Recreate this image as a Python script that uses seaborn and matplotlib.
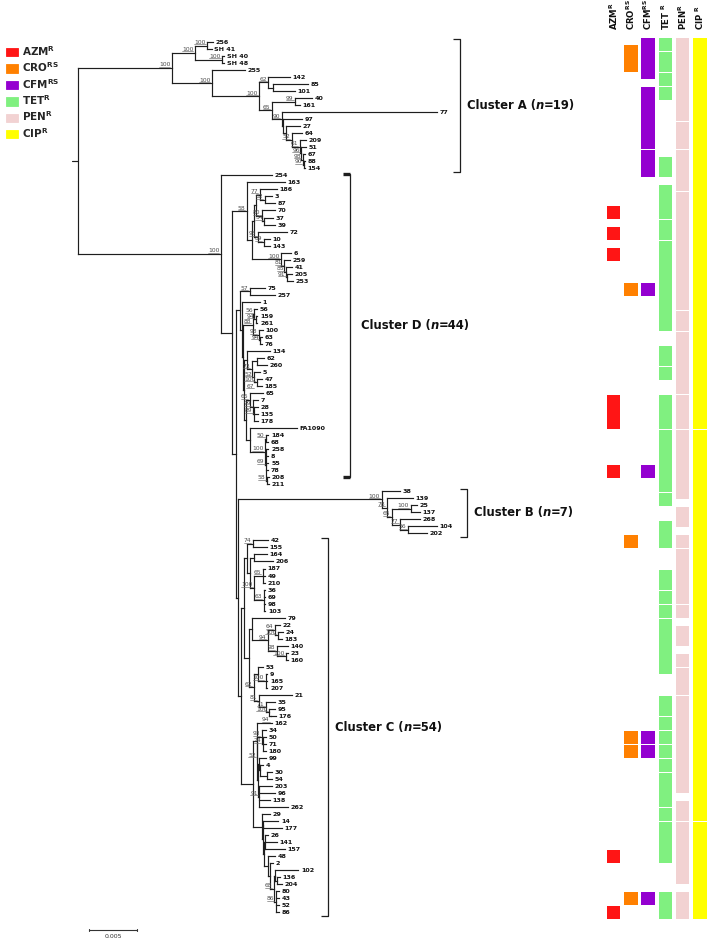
import matplotlib
matplotlib.use("Agg")
import matplotlib.pyplot as plt
import seaborn as sns
from matplotlib import font_manager as fm
from matplotlib.collections import LineCollection
from matplotlib.patches import Patch

# ---------------- data ----------------
# tree pieces in newick, branch lengths in substitutions/site, inner labels = bootstrap
CLADE_A = "(((256:0.00066,SH_41:0.0005)100:0.00127,(SH_40:0.00021,SH_48:0.00021)100:0.00285)100:0.00243,(255:0.00348,((142:0.00229,(85:0.00366,101:0.00229):0.00053)62:0.00095,((40:0.00176,161:0.00053)99:0.00246,(77:0.01635,(97:0.00194,(27:0.00148,(64:0.00105,(209:0.00063,(51:0.00047,(67:0.00026,(88:0.00016,154:0.00016)90:0.00011)98:0.00011)96:0.00016)61:0.00088)52:0.0006):0.00028):0.00017)90:0.00105)65:0.00131)100:0.00499)100:0.00422)100:0.00988"
CLADE_D_UPPER = "(163:0.00404,((((186:0.00176,(3:0.00071,87:0.00105)82:0.00053)77:0.00042,(70:0.00137,(37:0.00092,39:0.00113)54:0.00024)80:0.00063):0.00021,(72:0.00303,(10:0.00063,143:0.00063)89:0.00063)93:0.00042):0.00024,(6:0.00105,(259:0.00063,(41:0.00063,(205:0.00053,253:0.00063)91:0.00011)85:0.00021)81:0.00032)100:0.00309):0.00053)58:0.00158"
CLADE_D_LOWER = "((75:0.00158,257:0.00261)57:0.00105,(1:0.00193,(((56:0.00026,(159:0.00016,261:0.00016)94:0.00016)56:0.00016,(100:0.00042,(63:0.00016,76:0.00016)94:0.00016)98:0.00063)88:0.00105,((134:0.00246,((62:0.0008,260:0.00105):0.0005,(5:0.00063,((47:0.0005,185:0.0005)100:0.00016)67:0.00016)52:0.00021)73:0.00056):0.00023,((65:0.0014,(7:0.00053,(28:0.00042,135:0.00042,178:0.00042)89:0.00011)99:0.00032)66:0.00042,(FA1090:0.00493,((184:0.00026,68:0.00026)50:0.00011,(258:0.00026,8:0.00026,55:0.00026,78:0.00026,(208:0.00016,211:0.00016)58:0.00011)69:0.00011)100:0.00158):0.00042):0.00016):0.00016):0.00014):0.00018):0.00042"
CLADE_B = "(38:0.00193,(139:0.00277,((25:0.00066,137:0.00098)100:0.002,(268:0.00211,(104:0.00303,202:0.00197)56:0.00084)77:0.00088)65:0.00053)78:0.00053)100:0.01513"
CLADE_C_UPPER = "((42:0.00158,155:0.00145)74:0.00066,((164:0.00134,206:0.002):0.00042,((187:0.00021,49:0.00021,210:0.00021)65:0.00092,(36:0.00016,69:0.00016,98:0.00016,103:0.00016)63:0.00102)100:0.00045):0.00035):0.00028"
CLADE_C_MID = "((79:0.00351,((22:0.00053,(24:0.00053,183:0.00039)100:0.00032)64:0.00074,(140:0.00116,(23:0.00024,160:0.00024)100:0.00095)98:0.00095)94:0.00172):0.00025,((53:0.00056,(9:0.00019,165:0.00019,207:0.00019)100:0.00084):0.00039,(21:0.00345,(35:0.00095,(95:0.00063,(176:0.00053)94:0.00021)100:0.00032)71:0.00074)81:0.00053)62:0.0005):0.00056"
CLADE_C_LOW1 = "(162:0.00158,((34:0.00042,(50:0.00032,71:0.00032,180:0.00032)24:0.00011)93:0.00047,((99:0.00081,(4:0.00035,(30:0.00053,54:0.00053):0.00071):0.00011):0.00007,(203:0.00129,96:0.00164,138:0.00111,262:0.00304)91:0.00013):0.00008)52:0.00008):0.00036"
CLADE_C_LOW2 = "(29:0.00088,((14:0.00158,177:0.00194):0.00003,((26:0.00035,141:0.00123,157:0.00211):0.00011,(48:0.00071,(2:0.00035,((102:0.00246,(136:0.00035,204:0.00053):0.00018):0.00011,(80:0.00035,43:0.00035,52:0.00035,86:0.00035)86:0.00021)68:0.00042):0.00018):0.00045):0.00011):0.00014):0.00089"
BACKBONE = "({A},(254:0.00535,({DU},({DL},({B},(({CU},{CM}):0.00032,({CL1},{CL2}):0.0013):0.00028):0.00024):0.00045):0.00113)100:0.01505);"

CLUSTER_NAMES = ["A", "D", "B", "C"]
CLUSTER_N = [19, 44, 7, 54]
CLUSTER_FIRST = ["256", "254", "38", "42"]
CLUSTER_LAST = ["154", "208", "202", "86"]

SCALE_BAR = 0.005

DRUGS = ["AZM", "CRO", "CFM", "TET", "PEN", "CIP"]
DRUG_SUP = ["R", "RS", "RS", "R", "R", "R"]
DRUG_COLORS = ["#ff1515", "#ff8000", "#9400d0", "#80f080", "#f2d2d2", "#ffff00"]

# resistance blocks per column (first row, last row)
AZM_RUNS = [(24, 25), (27, 28), (30, 31), (51, 55), (61, 62), (116, 117), (124, 125)]
CRO_RUNS = [(1, 4), (35, 36), (71, 72), (99, 100), (101, 102), (122, 123)]
CFM_RUNS = [(0, 5), (7, 15), (16, 19), (35, 36), (61, 62), (99, 100), (101, 102), (122, 123)]
TET_RUNS = [(0, 1), (2, 4), (5, 6), (7, 8), (17, 19), (21, 25), (26, 28), (29, 41), (44, 46),
            (47, 48), (51, 55), (56, 64), (65, 66), (69, 72), (76, 78), (79, 80), (81, 82),
            (83, 90), (94, 96), (97, 98), (99, 100), (101, 102), (103, 104), (105, 109),
            (110, 111), (112, 117), (122, 125)]
PEN_RUNS = [(0, 11), (12, 15), (16, 21), (22, 38), (39, 41), (42, 50), (51, 55), (56, 65),
            (67, 69), (71, 72), (73, 80), (81, 82), (84, 86), (88, 89), (90, 93), (94, 107),
            (109, 111), (112, 120), (122, 125)]
CIP_RUNS = [(0, 55), (56, 111), (112, 125)]
ALL_RUNS = [AZM_RUNS, CRO_RUNS, CFM_RUNS, TET_RUNS, PEN_RUNS, CIP_RUNS]

# ---------------- layout (pixels of a 708x939 canvas) ----------------
W, H = 708, 939
ROOT_PX, PX_PER_UNIT = 78.3, 9480.0
LEAF0_PX, LEAF_STEP = 42.0, 7.02
ROW0_PX, ROW_STEP = 38.3, 7.0
COL0_PX, COL_STEP = 613.5, 17.3


def px_x(px):
    return (px - ROOT_PX) / PX_PER_UNIT


def px_y(py):
    return (py - LEAF0_PX) / LEAF_STEP


def parse_newick(s):
    pos = 0

    def node():
        nonlocal pos
        n = {"children": [], "name": "", "length": 0.0}
        if s[pos] == "(":
            pos += 1
            n["children"].append(node())
            while s[pos] == ",":
                pos += 1
                n["children"].append(node())
            assert s[pos] == ")", s[pos - 20:pos + 5]
            pos += 1
        start = pos
        while s[pos] not in ":,();":
            pos += 1
        n["name"] = s[start:pos].replace("_", " ")
        if s[pos] == ":":
            pos += 1
            start = pos
            while s[pos] not in ",();":
                pos += 1
            n["length"] = float(s[start:pos])
        return n

    return node()


tree = parse_newick(BACKBONE.format(A=CLADE_A, DU=CLADE_D_UPPER, DL=CLADE_D_LOWER, B=CLADE_B,
                                    CU=CLADE_C_UPPER, CM=CLADE_C_MID,
                                    CL1=CLADE_C_LOW1, CL2=CLADE_C_LOW2))
leaves = []


def layout(n, x0):
    n["x"] = x0 + n["length"]
    if not n["children"]:
        n["y"] = len(leaves)
        leaves.append(n)
    else:
        for c in n["children"]:
            layout(c, n["x"])
        n["y"] = (n["children"][0]["y"] + n["children"][-1]["y"]) / 2


layout(tree, 0.0)
assert len(leaves) == 125, len(leaves)
leaf_y = {lf["name"]: lf["y"] for lf in leaves}

segs, inner = [], []


def collect(n, parent_x):
    if parent_x is not None:
        segs.append([(parent_x, n["y"]), (n["x"], n["y"])])
    if n["children"]:
        segs.append([(n["x"], n["children"][0]["y"]), (n["x"], n["children"][-1]["y"])])
        if n["name"]:
            inner.append(n)
        for c in n["children"]:
            collect(c, n["x"])


collect(tree, None)

# ---------------- drawing ----------------
sns.set_theme(style="white")
plt.rcParams["font.family"] = ["DejaVu Sans"]
plt.rcParams["mathtext.default"] = "bf"

# column headers are narrow in the source; use a narrow face when present
try:
    fm.findfont(fm.FontProperties(family="Liberation Sans Narrow", weight="bold"),
                fallback_to_default=False)
    HEAD_FAMILY, HEAD_SIZE = ["Liberation Sans Narrow", "DejaVu Sans"], 8.0
except ValueError:
    HEAD_FAMILY, HEAD_SIZE = ["DejaVu Sans"], 6.2

fig = plt.figure(figsize=(W / 100, H / 100), dpi=100)
ax = fig.add_axes([0, 0, 1, 1])
ax.set_xlim(px_x(0), px_x(W))
ax.set_ylim(px_y(H), px_y(0))
ax.axis("off")

line_col = "#1e1e1e"
ax.add_collection(LineCollection(segs, colors=line_col, linewidths=0.85, capstyle="projecting"))
# root stub
ax.plot([-6 / PX_PER_UNIT, 0], [tree["y"], tree["y"]], color=line_col, lw=0.85)

for lf in leaves:
    ax.text(lf["x"] + 2.6 / PX_PER_UNIT, lf["y"], lf["name"], fontsize=4.6, fontweight="bold",
            ha="left", va="center_baseline", color="#111111")

# bootstrap values: above the stem, or below it for a node with a single descendant line
boot_texts = []
for n in inner:
    if len(n["children"]) == 1:
        t = ax.text(n["x"] - 1.5 / PX_PER_UNIT, n["y"] + 1.2 / LEAF_STEP, n["name"],
                    fontsize=4.3, color="#4a4a4a", ha="right", va="top")
    else:
        t = ax.text(n["x"] - 1.5 / PX_PER_UNIT, n["y"] - 1.6 / LEAF_STEP, n["name"],
                    fontsize=4.3, color="#4a4a4a", ha="right", va="baseline")
    boot_texts.append(t)

# cluster brackets
BRACKET_PX = {"A": 460, "D": 350, "B": 467, "C": 328}
for name, n_iso, first, last in zip(CLUSTER_NAMES, CLUSTER_N, CLUSTER_FIRST, CLUSTER_LAST):
    bx = px_x(BRACKET_PX[name])
    tick = 7 / PX_PER_UNIT
    pad_top, pad_bot = (0.15, 0.0) if name == "D" else (0.38, 0.55)
    y0, y1 = leaf_y[first] - pad_top, leaf_y[last] + pad_bot
    ax.plot([bx, bx], [y0, y1], color=line_col, lw=0.9)
    tick_lw = 2.4 if name == "D" else 0.9
    ax.plot([bx - tick, bx], [y0, y0], color=line_col, lw=tick_lw, solid_capstyle="butt")
    ax.plot([bx - tick, bx], [y1, y1], color=line_col, lw=tick_lw, solid_capstyle="butt")
    lx = bx + (11 if name == "D" else 7) / PX_PER_UNIT
    t1 = ax.text(lx, (y0 + y1) / 2, f"Cluster {name} (", fontsize=8.4, fontweight="bold",
                 ha="left", va="center", color="#111111")
    t2 = ax.annotate("n", xy=(1, 0), xycoords=t1, ha="left", va="bottom", fontsize=8.4,
                     fontweight="bold", fontstyle="italic", color="#111111")
    ax.annotate(f"={n_iso})", xy=(1, 0), xycoords=t2, ha="left", va="bottom", fontsize=8.4,
                fontweight="bold", color="#111111")

# scale bar
sb_x0, sb_y = px_x(89.3), px_y(930)
ax.plot([sb_x0, sb_x0 + SCALE_BAR], [sb_y, sb_y], color="#333333", lw=0.8)
for xx in (sb_x0, sb_x0 + SCALE_BAR):
    ax.plot([xx, xx], [sb_y - 0.12, sb_y + 0.12], color="#333333", lw=0.8)
ax.text(sb_x0 + SCALE_BAR / 2, px_y(936), f"{SCALE_BAR:.3f}", fontsize=4.5, ha="center",
        va="center", color="#333333")

# resistance profile columns
hx = fig.add_axes([0, 0, 1, 1])
hx.patch.set_alpha(0)
hx.set_xlim((0 - COL0_PX) / COL_STEP, (W - COL0_PX) / COL_STEP)
hx.set_ylim((H - ROW0_PX) / ROW_STEP, (0 - ROW0_PX) / ROW_STEP)
hx.axis("off")
GAP = 0.24
for i, (runs, color) in enumerate(zip(ALL_RUNS, DRUG_COLORS)):
    hx.bar([i] * len(runs), [e - s + 1 - GAP for s, e in runs], bottom=[s for s, e in runs],
           width=0.78, color=color, linewidth=0, align="center")
    sep = " " if DRUGS[i] in ("TET", "CIP") else ""
    hx.text(i, (30 - ROW0_PX) / ROW_STEP, f"{DRUGS[i]}{sep}$^{{{DRUG_SUP[i]}}}$",
            rotation=90, ha="center", va="bottom", fontsize=HEAD_SIZE, fontweight="bold",
            family=HEAD_FAMILY, color="#111111")

# legend
handles = [Patch(facecolor=c, edgecolor=c, linewidth=0.6) for c in DRUG_COLORS]
labels = [f"{d}$^{{{s}}}$" for d, s in zip(DRUGS, DRUG_SUP)]
fig.legend(handles, labels, loc="upper left", bbox_to_anchor=(6 / W, 1 - 44 / H), frameon=False,
           prop=dict(weight="bold", size=7.5), handlelength=1.15, handleheight=0.85,
           handletextpad=0.42, labelspacing=0.25, borderpad=0, borderaxespad=0)

# underline bootstrap values
fig.canvas.draw()
renderer = fig.canvas.get_renderer()
inv = ax.transData.inverted()
for t in boot_texts:
    bb = t.get_window_extent(renderer)
    (x0, yu), (x1, _) = inv.transform([(bb.x0, bb.y0 + 0.6), (bb.x1, bb.y0 + 0.6)])
    ax.plot([x0, x1], [yu, yu], color="#6a6a6a", lw=0.45)

fig.savefig("out.png", dpi=100)
